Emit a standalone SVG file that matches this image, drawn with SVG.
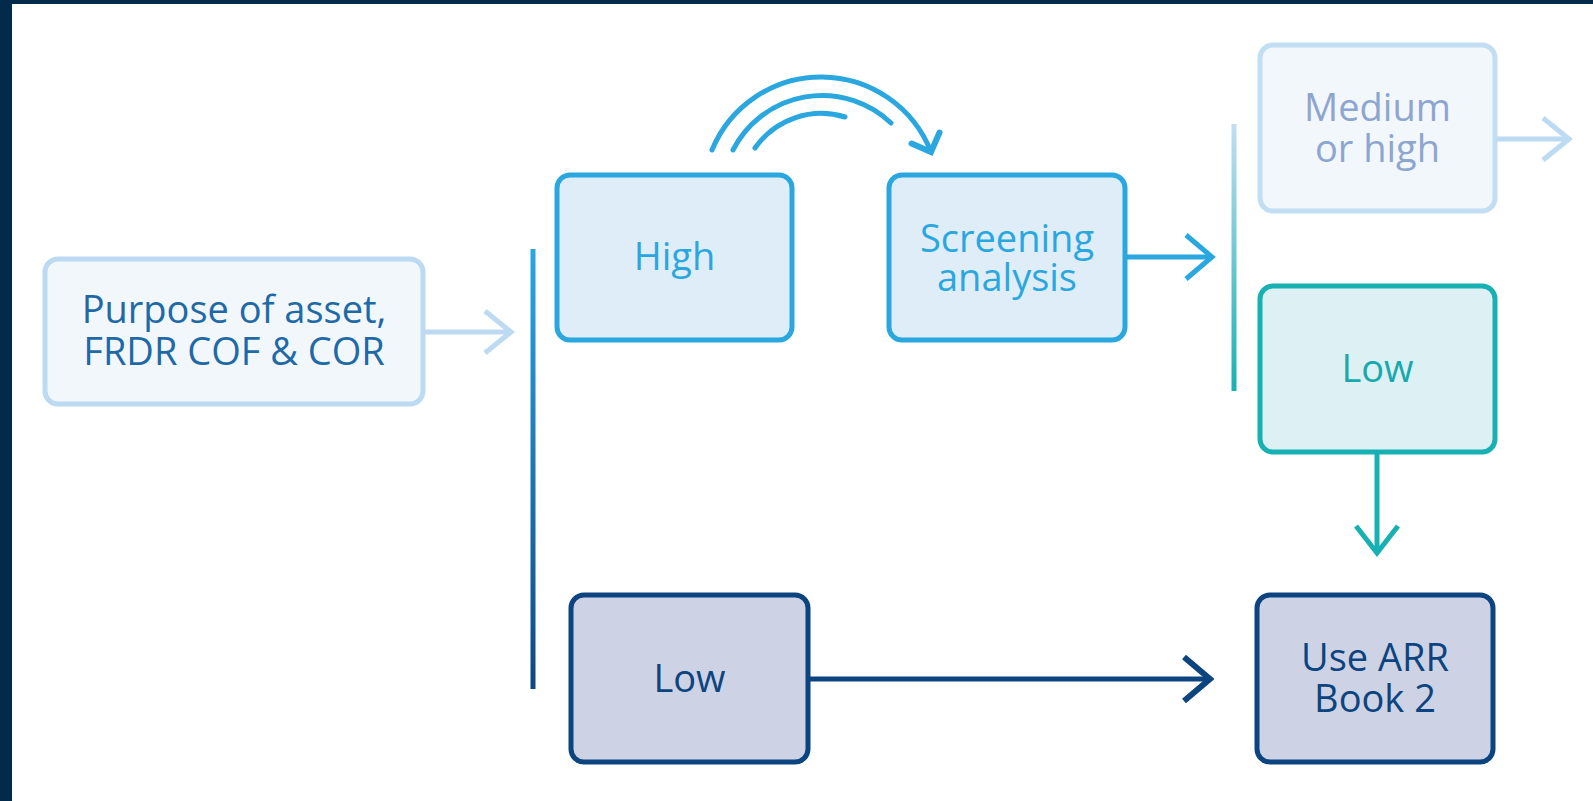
<svg xmlns="http://www.w3.org/2000/svg" width="1593" height="801" viewBox="0 0 1593 801">
<style>
.t{font-family:"Open Sans","Noto Sans","DejaVu Sans",sans-serif;font-size:38px;text-anchor:middle}
.box{stroke-width:5}
.ln{fill:none;stroke-width:5}
</style>
<defs>
<linearGradient id="g1" x1="0" y1="0" x2="0" y2="1"><stop offset="0" stop-color="#2aa7df"/><stop offset="1" stop-color="#0f4783"/></linearGradient>
<linearGradient id="g2" x1="0" y1="0" x2="0" y2="1"><stop offset="0" stop-color="#c2def3"/><stop offset="1" stop-color="#17b1b3"/></linearGradient>
<marker id="mL" markerUnits="userSpaceOnUse" viewBox="-32 -26 36 52" markerWidth="36" markerHeight="52" refX="0" refY="0" orient="auto"><path d="M-26,-21 L0,0 L-26,21" fill="none" stroke="#bcdaf2" stroke-width="5"/></marker>
<marker id="mB" markerUnits="userSpaceOnUse" viewBox="-32 -26 36 52" markerWidth="36" markerHeight="52" refX="0" refY="0" orient="auto"><path d="M-26,-22 L0,0 L-26,22" fill="none" stroke="#2aa7df" stroke-width="5"/></marker>
<marker id="mT" markerUnits="userSpaceOnUse" viewBox="-32 -26 36 52" markerWidth="36" markerHeight="52" refX="0" refY="0" orient="auto"><path d="M-27,-21 L0,0 L-27,21" fill="none" stroke="#17b1b3" stroke-width="5"/></marker>
<marker id="mD" markerUnits="userSpaceOnUse" viewBox="-32 -26 36 52" markerWidth="36" markerHeight="52" refX="0" refY="0" orient="auto"><path d="M-26,-22 L0,0 L-26,22" fill="none" stroke="#0c447f" stroke-width="6"/></marker>
<marker id="mA" markerUnits="userSpaceOnUse" viewBox="-24 -20 28 40" markerWidth="28" markerHeight="40" refX="0" refY="0" orient="auto"><path d="M-15,-15 L0,0 L-15,15" fill="none" stroke="#2aa7df" stroke-width="6" stroke-linecap="round"/></marker>
</defs>
<rect x="0" y="0" width="1593" height="801" fill="#ffffff"/>
<rect x="0" y="0" width="1593" height="4" fill="#022a4b"/>
<rect x="0" y="0" width="12" height="801" fill="#022a4b"/>

<g id="connectors">
<line class="ln" x1="423" y1="332" x2="511" y2="332" stroke="#bcdaf2" marker-end="url(#mL)"/>
<rect x="530.5" y="249" width="5" height="440" fill="url(#g1)"/>
<path class="ln" d="M712,150 A118,118 0 0 1 931,152" stroke="#2aa7df" stroke-width="6" stroke-linecap="round" marker-end="url(#mA)"/>
<path class="ln" d="M733,150 A100,100 0 0 1 891,123" stroke="#2aa7df" stroke-width="6" stroke-linecap="round"/>
<path class="ln" d="M755,148 A81,81 0 0 1 845,117" stroke="#2aa7df" stroke-width="6" stroke-linecap="round"/>
<line class="ln" x1="1125" y1="257" x2="1212" y2="257" stroke="#2aa7df" marker-end="url(#mB)"/>
<rect x="1231.5" y="124" width="5" height="267" fill="url(#g2)"/>
<line class="ln" x1="1495" y1="139" x2="1569" y2="139" stroke="#bcdaf2" marker-end="url(#mL)"/>
<line class="ln" x1="1377" y1="452" x2="1377" y2="553" stroke="#17b1b3" marker-end="url(#mT)"/>
<line class="ln" x1="808" y1="679" x2="1210" y2="679" stroke="#0c447f" stroke-width="6" marker-end="url(#mD)"/>
</g>

<g id="purpose">
<rect class="box" x="45" y="259" width="378" height="145" rx="13" fill="#f2f7fc" stroke="#bcdaf2"/>
<text class="t" x="234" y="323" fill="#1f6aa6">Purpose of asset,</text>
<text class="t" x="234" y="365" fill="#1f6aa6">FRDR COF &amp; COR</text>
</g>
<g id="high">
<rect class="box" x="557" y="175" width="235" height="165" rx="13" fill="#dfedf9" stroke="#2aa7df"/>
<text class="t" x="674.5" y="270" fill="#2aa7df">High</text>
</g>
<g id="screening">
<rect class="box" x="889" y="175" width="236" height="165" rx="13" fill="#dfedf9" stroke="#2aa7df"/>
<text class="t" x="1007" y="252" fill="#2aa7df">Screening</text>
<text class="t" x="1007" y="291" fill="#2aa7df">analysis</text>
</g>
<g id="medium">
<rect class="box" x="1260" y="45" width="235" height="166" rx="13" fill="#f2f7fc" stroke="#c2def3"/>
<text class="t" x="1377.5" y="121" fill="#8ea6cf">Medium</text>
<text class="t" x="1377.5" y="162" fill="#8ea6cf">or high</text>
</g>
<g id="low-teal">
<rect class="box" x="1260" y="286" width="235" height="166" rx="13" fill="#ddf0f4" stroke="#17b1b3"/>
<text class="t" x="1377.5" y="382" fill="#17a9ae">Low</text>
</g>
<g id="low-dark">
<rect class="box" x="571" y="595" width="237" height="167" rx="13" fill="#cdd3e5" stroke="#0c447f"/>
<text class="t" x="689.5" y="692" fill="#0c447f">Low</text>
</g>
<g id="use-arr">
<rect class="box" x="1257" y="595" width="236" height="167" rx="13" fill="#cdd3e5" stroke="#0c447f"/>
<text class="t" x="1375" y="671" fill="#0c447f">Use ARR</text>
<text class="t" x="1375" y="712" fill="#0c447f">Book 2</text>
</g>
</svg>
